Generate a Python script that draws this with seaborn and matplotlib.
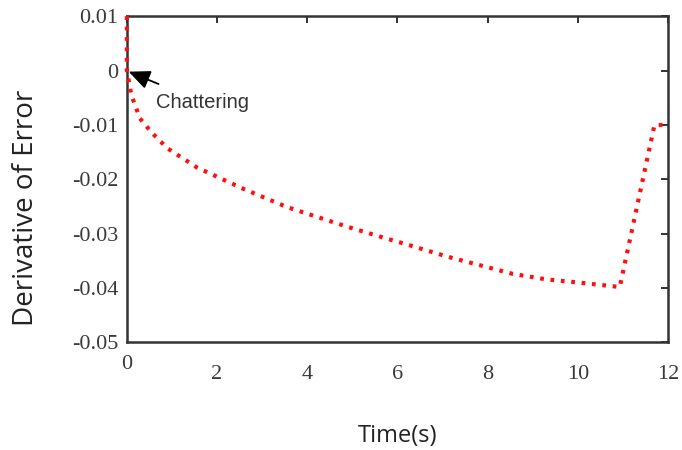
import matplotlib
matplotlib.use("Agg")
import matplotlib.pyplot as plt
import matplotlib.transforms as mtransforms
import seaborn as sns
import pandas as pd

time_s = [0, 0, 0.1, 0.29, 0.55, 0.9, 1.55, 2.57, 3.55, 4.88, 5.6, 6.34, 7.1, 8.56, 9.3, 10.04, 10.93, 11.7, 12]
deriv_err = [0.01, 0.0, -0.0045, -0.0088, -0.0114, -0.0143, -0.0178, -0.0217, -0.0251, -0.0287,
             -0.0305, -0.0323, -0.0342, -0.0374, -0.0384, -0.039, -0.0398, -0.01, -0.01]
x_ticks = [0, 2, 4, 6, 8, 10, 12]
y_ticks = [-0.05, -0.04, -0.03, -0.02, -0.01, 0, 0.01]
y_tick_labels = ["-0.05", "-0.04", "-0.03", "-0.02", "-0.01", "0", "0.01"]

sns.set_theme(style="white")
plt.rcParams['font.family'] = ['Liberation Serif', 'DejaVu Serif']

df = pd.DataFrame({"t": time_s, "e": deriv_err})

fig = plt.figure(figsize=(6.82, 4.5), dpi=100)
ax = fig.add_axes([0.186, 0.239, 0.7935, 0.725])

sns.lineplot(data=df, x="t", y="e", sort=False, estimator=None, ax=ax,
             color="#ff1010", linewidth=3.0, linestyle=(0, (0.9, 1.6)),
             clip_on=False, zorder=5)

ax.set_xlim(0, 12)
ax.set_ylim(-0.05, 0.01)
ax.set_xticks(x_ticks)
ax.set_xticklabels([str(v) for v in x_ticks])
ax.set_yticks(y_ticks)
ax.set_yticklabels(y_tick_labels)

for sp in ax.spines.values():
    sp.set_visible(True)
    sp.set_color("#333333")
    sp.set_linewidth(1.8)
    sp.set_zorder(2)

ax.tick_params(axis="both", which="major", direction="in", length=5, width=1.3,
               color="#222222", top=True, right=True, labelsize=16, labelcolor="#3a3a3a")
ax.tick_params(axis="x", pad=16)
ax.tick_params(axis="y", pad=6)

# first x label ("0") sits higher than the others
lbl0 = ax.get_xticklabels()[0]
lbl0.set_transform(lbl0.get_transform() + mtransforms.ScaledTranslation(0, 10 / 100, fig.dpi_scale_trans))

ax.set_xlabel("Time(s)", fontsize=17, family=["Open Sans", "DejaVu Sans"], color="#222222", labelpad=29)
ax.set_ylabel("Derivative of Error", fontsize=20, family=["Open Sans", "DejaVu Sans"], color="#222222", labelpad=23)
ax.yaxis.label.set_y(0.413)

ax.annotate("Chattering", xy=(0.04, -0.0002), xytext=(0.64, -0.0058),
            fontsize=14.5, family=["Liberation Sans", "DejaVu Sans"], color="#333333",
            ha="left", va="center", zorder=6,
            arrowprops=dict(arrowstyle="-|>,head_length=0.9,head_width=0.4", color="black",
                            lw=1.3, shrinkA=10, shrinkB=0))

fig.savefig("out.png", dpi=100)
